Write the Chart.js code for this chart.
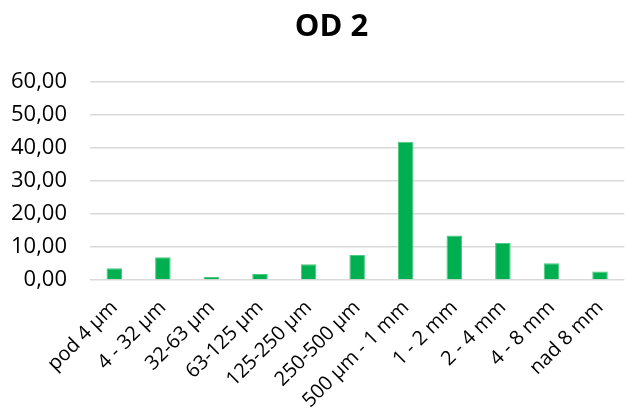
<!DOCTYPE html>
<html>
<head>
<meta charset="utf-8">
<script src="https://cdn.jsdelivr.net/npm/chart.js@4"></script>
<style>
  html, body { margin: 0; padding: 0; background: #fff; }
  #wrap { width: 633px; height: 412px; }
</style>
</head>
<body>
<div id="wrap"><canvas id="odChart"></canvas></div>
<script>
// Kategorie a hodnoty
const kategorie = ['pod 4 µm', '4 - 32 µm', '32-63 µm', '63-125 µm', '125-250 µm', '250-500 µm',
  '500 µm - 1 mm', '1 - 2 mm', '2 - 4 mm', '4 - 8 mm', 'nad 8 mm'];
const hodnoty = [3.6, 6.9, 0.9, 1.8, 4.8, 7.6, 41.9, 13.5, 11.2, 5.1, 2.6];
const nazev = 'OD 2';

const font = "'Open Sans', 'Liberation Sans', sans-serif";

// posune nadpis trochu doprava (jako v Excelu)
const posunNadpisu = {
  id: 'posunNadpisu',
  afterLayout(chart) {
    if (chart.titleBlock) chart.titleBlock.left += 30;
  }
};

const odChart = new Chart(document.getElementById('odChart').getContext('2d'), {
  type: 'bar',
  data: {
    labels: kategorie,
    datasets: [
      {
        label: nazev,
        data: hodnoty,
        backgroundColor: '#00b050',
        borderColor: '#4cc97f',
        borderWidth: 1,
        barPercentage: 0.32,
        categoryPercentage: 1
      }
    ]
  },
  options: {
    responsive: true,
    maintainAspectRatio: false,
    animation: false,
    layout: { padding: 0 },
    plugins: {
      legend: { display: false },
      tooltip: { enabled: false },
      title: {
        display: true,
        text: nazev,
        color: '#000',
        font: { family: font, size: 31, weight: 'bold', lineHeight: 1.2 },
        padding: { top: 9, bottom: 36 }
      }
    },
    scales: {
      x: {
        grid: { display: false, drawTicks: false },
        border: { display: false },
        afterFit: (axis) => { axis.height = 132; },
        ticks: {
          color: '#000',
          font: { family: font, size: 20 },
          maxRotation: 45,
          minRotation: 45,
          autoSkip: false,
          padding: 16
        }
      },
      y: {
        min: 0,
        max: 60,
        grid: { color: '#d9d9d9', lineWidth: 1.5, drawTicks: false },
        border: { display: false },
        afterFit: (axis) => { axis.width = 90; },
        ticks: {
          stepSize: 10,
          color: '#000',
          padding: 23,
          font: { family: font, size: 22 },
          callback: (v) => v.toFixed(2).replace('.', ',')
        }
      }
    }
  },
  plugins: [posunNadpisu]
});
</script>
</body>
</html>
